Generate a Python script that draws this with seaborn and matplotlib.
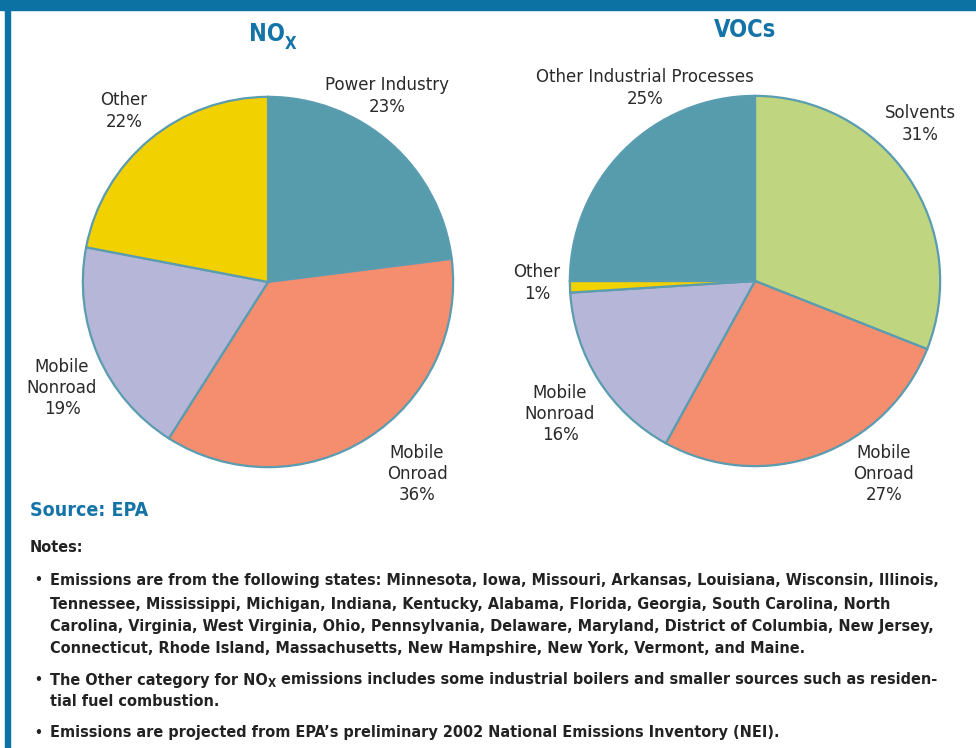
import matplotlib
matplotlib.use("Agg")
import matplotlib.pyplot as plt
import seaborn as sns
from matplotlib.patches import Rectangle
from matplotlib.text import Annotation

# pie data (clockwise from 12 o'clock)
nox_labels = ["Power Industry", "Mobile Onroad", "Mobile Nonroad", "Other"]
nox_values = [23, 36, 19, 22]
voc_labels = ["Solvents", "Mobile Onroad", "Mobile Nonroad", "Other", "Other Industrial Processes"]
voc_values = [31, 27, 16, 1, 25]

colors = {
    "Power Industry": "#579cad",
    "Other Industrial Processes": "#579cad",
    "Mobile Onroad": "#f58d6f",
    "Mobile Nonroad": "#b6b6d8",
    "Other": "#f2d100",
    "Solvents": "#bfd580",
}

source_text = "Source: EPA"
notes_title = "Notes:"
note1_lines = [
    "Emissions are from the following states: Minnesota, Iowa, Missouri, Arkansas, Louisiana, Wisconsin, Illinois,",
    "Tennessee, Mississippi, Michigan, Indiana, Kentucky, Alabama, Florida, Georgia, South Carolina, North",
    "Carolina, Virginia, West Virginia, Ohio, Pennsylvania, Delaware, Maryland, District of Columbia, New Jersey,",
    "Connecticut, Rhode Island, Massachusetts, New Hampshire, New York, Vermont, and Maine.",
]
note2_parts = ["The Other category for NO", "X", " emissions includes some industrial boilers and smaller sources such as residen-"]
note2_line2 = "tial fuel combustion."
note3 = "Emissions are projected from EPA\u2019s preliminary 2002 National Emissions Inventory (NEI)."

sns.set_theme(style="white")
plt.rcParams["font.family"] = ["DejaVu Sans"]

W, H = 976, 748
BLUE = "#1574a7"
DARK = "#222222"

fig = plt.figure(figsize=(W / 100, H / 100), dpi=100)
fig.patch.set_facecolor("white")


def fx(x):
    return x / W


def fy(y):
    return 1 - y / H


# frame bars
fig.patches.append(Rectangle((0, fy(10)), 1, 10 / H, transform=fig.transFigure, color="#0b72a3", zorder=0))
fig.patches.append(Rectangle((fx(5), 0), 5 / W, fy(10), transform=fig.transFigure, color="#0b72a3", zorder=0))


def draw_pie(cx, cy, r, labels, values):
    ax = fig.add_axes([fx(cx - r), fy(cy + r), 2 * r / W, 2 * r / H])
    pal = sns.color_palette([colors[l] for l in labels])
    ax.pie(values, colors=pal, startangle=90, counterclock=False,
           wedgeprops=dict(edgecolor="#5a9cb0", linewidth=1.6))
    ax.set_xlim(-1.01, 1.01)
    ax.set_ylim(-1.01, 1.01)
    ax.axis("off")
    return ax


draw_pie(268, 282, 187, nox_labels, nox_values)
draw_pie(755, 281, 187, voc_labels, voc_values)

# slice labels
lab_kw = dict(ha="center", va="center", fontsize=12, color="#2a2a2a", linespacing=1.25, multialignment="center")
nox_pos = {"Power Industry": (387, 96), "Mobile Onroad": (417, 474), "Mobile Nonroad": (62, 388), "Other": (124, 111)}
voc_pos = {"Solvents": (920, 124), "Mobile Onroad": (884, 474), "Mobile Nonroad": (560, 414),
           "Other": (537, 283), "Other Industrial Processes": (645, 88)}


def short(label):
    if label.startswith("Mobile "):
        return label.replace(" ", "\n")
    return label


for lab, val in zip(nox_labels, nox_values):
    x, y = nox_pos[lab]
    fig.text(fx(x), fy(y), f"{short(lab)}\n{val}%", **lab_kw)
for lab, val in zip(voc_labels, voc_values):
    x, y = voc_pos[lab]
    fig.text(fx(x), fy(y), f"{short(lab)}\n{val}%", **lab_kw)

bold_kw = dict(fontweight="bold", fontstretch="condensed")

# titles
t = fig.text(fx(249), fy(34), "NO", fontsize=17, color=BLUE, va="center", **bold_kw)
fig.add_artist(Annotation("X", xy=(1, 0), xycoords=t, xytext=(0, -5), textcoords="offset points",
                          fontsize=12, color=BLUE, va="bottom", ha="left", **bold_kw))
fig.text(fx(745), fy(30), "VOCs", fontsize=17, color=BLUE, va="center", ha="center", **bold_kw)

# source & notes
fig.text(fx(30), fy(510), source_text, fontsize=14, color=BLUE, va="center", **bold_kw)
fig.text(fx(30), fy(548), notes_title, fontsize=11.6, color=DARK, va="center", **bold_kw)

note_kw = dict(fontsize=11.6, color=DARK, va="center", **bold_kw)
bullet_kw = dict(fontsize=10, color=DARK, va="center", **bold_kw)
for i, line in enumerate(note1_lines):
    y = [580, 604, 627, 649][i]
    if i == 0:
        fig.text(fx(34), fy(y), "\u2022", **bullet_kw)
    fig.text(fx(50), fy(y), line, **note_kw)

fig.text(fx(34), fy(680), "\u2022", **bullet_kw)
p1 = fig.text(fx(50), fy(680), note2_parts[0], **note_kw)
fig.add_artist(Annotation(note2_parts[1], xy=(1, 0), xycoords=p1, xytext=(0, -2), textcoords="offset points",
                          fontsize=8.5, color=DARK, va="bottom", ha="left", **bold_kw))
fig.add_artist(Annotation(note2_parts[2], xy=(1, 0), xycoords=p1, xytext=(6, 0), textcoords="offset points",
                          fontsize=11.6, color=DARK, va="bottom", ha="left", **bold_kw))
fig.text(fx(50), fy(702), note2_line2, **note_kw)

fig.text(fx(34), fy(733), "\u2022", **bullet_kw)
fig.text(fx(50), fy(733), note3, **note_kw)

fig.savefig("out.png", dpi=100, facecolor="white")
